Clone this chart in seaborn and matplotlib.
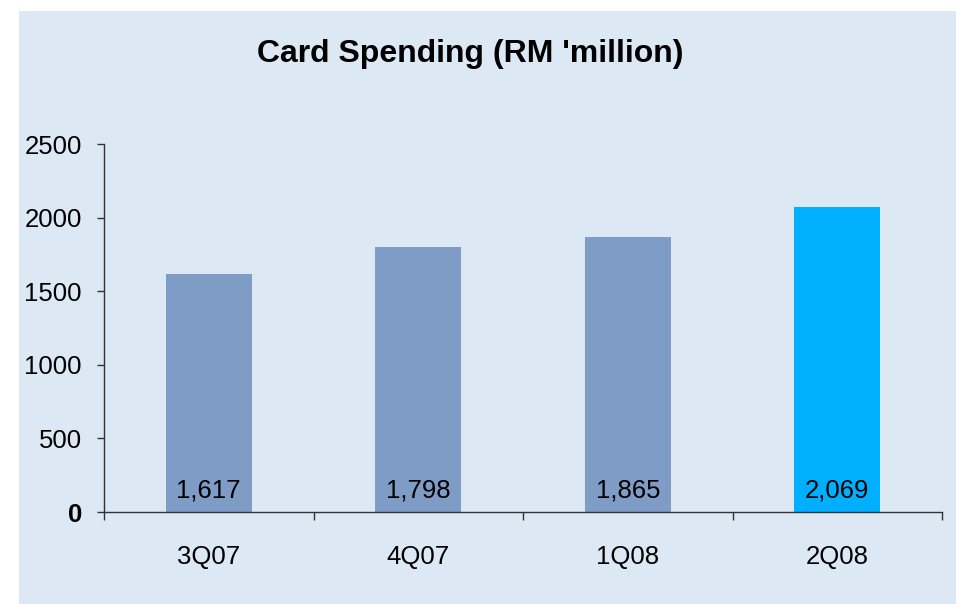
import matplotlib
matplotlib.use("Agg")
import matplotlib.pyplot as plt
import matplotlib.patches as mpatches
import seaborn as sns
import pandas as pd

quarters = ["3Q07", "4Q07", "1Q08", "2Q08"]
spending = [1617, 1798, 1865, 2069]
value_labels = ["1,617", "1,798", "1,865", "2,069"]
y_ticks = [0, 500, 1000, 1500, 2000, 2500]

bg = "#DDE8F5"
bar_colors = ["#7F9CC6", "#7F9CC6", "#7F9CC6", "#00B0FF"]

sns.set_theme(style="white")
plt.rcParams["font.family"] = ["Liberation Sans", "DejaVu Sans"]

fig = plt.figure(figsize=(9.6, 6.04), dpi=100, facecolor="white")
# light blue panel behind the chart
fig.patches.append(mpatches.Rectangle((19 / 960, 0), (956 - 19) / 960, (604 - 11) / 604,
                                      transform=fig.transFigure, facecolor=bg,
                                      edgecolor="none", zorder=-10))

ax = fig.add_axes([104 / 960, 92 / 604, 838 / 960, 368 / 604])
ax.set_facecolor("none")
ax.set_zorder(5)

df = pd.DataFrame({"quarter": quarters, "spending": spending})
sns.barplot(data=df, x="quarter", y="spending", hue="quarter",
            palette=bar_colors, width=0.41, saturation=1, legend=False,
            linewidth=0, edgecolor="none", ax=ax)

ax.set_xlim(-0.5, len(quarters) - 0.5)
ax.set_ylim(0, 2500)
ax.set_yticks(y_ticks)
ax.set_yticklabels([str(t) for t in y_ticks], fontsize=18.5, color="black")
ax.get_yticklabels()[0].set_fontweight("bold")

ax.set_xticks(range(len(quarters)))
ax.set_xticklabels(quarters, fontsize=18.5, color="black")
ax.set_xticks([i - 0.5 for i in range(len(quarters) + 1)], minor=True)
ax.tick_params(axis="x", which="major", length=0, pad=24)
ax.tick_params(axis="x", which="minor", length=6, width=1, color="#333333", direction="out", bottom=True)
ax.tick_params(axis="y", which="major", length=5, width=1, color="#333333", direction="out", left=True, pad=11)

ax.set_xlabel("")
ax.set_ylabel("")
for side in ["top", "right"]:
    ax.spines[side].set_visible(False)
for side in ["left", "bottom"]:
    ax.spines[side].set_color("#333333")
    ax.spines[side].set_linewidth(1)

for i, (v, lab) in enumerate(zip(spending, value_labels)):
    ax.annotate(lab, xy=(i, 0), xytext=(0, 7), textcoords="offset points",
                ha="center", va="bottom", fontsize=18.5, color="black")

fig.text(470 / 960, 1 - 54 / 604, "Card Spending (RM 'million)", ha="center", va="center",
         fontsize=23, fontweight="bold", color="black", zorder=6)

fig.savefig("out.png", dpi=100, facecolor="white")
